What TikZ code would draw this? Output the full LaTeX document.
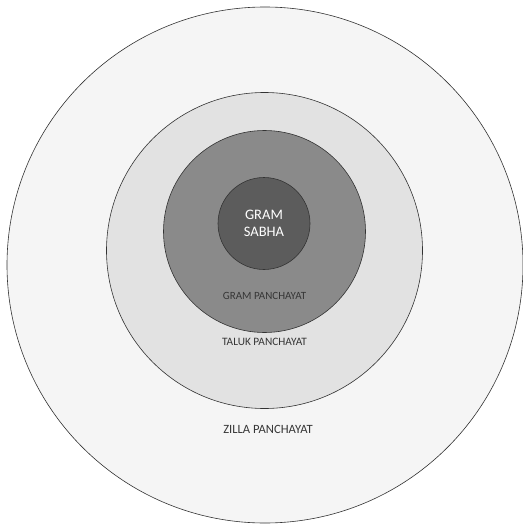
\documentclass[tikz,border=0pt]{standalone}
\usepackage{fontspec}
\setmainfont{Carlito}
\definecolor{zillafill}{HTML}{F5F5F5}
\definecolor{talukfill}{HTML}{E2E2E2}
\definecolor{gpfill}{HTML}{8A8A8A}
\definecolor{gsfill}{HTML}{5C5C5C}
\definecolor{labeltext}{HTML}{363636}
\tikzset{ring/.style={circle,draw=black!80,line width=0.6pt,inner sep=0pt}}
\begin{document}
\begin{tikzpicture}[x=1pt,y=-1pt]
        \useasboundingbox[fill=white](0,0)rectangle(522,524);
        \node[ring,fill=zillafill,minimum size=516pt](zilla)at(265,265){};
        \node[ring,fill=talukfill,minimum size=316pt](taluk)at(264.5,250.5){};
        \node[ring,fill=gpfill,minimum size=202pt](gp)at(264.5,231.5){};
        \node[ring,fill=gsfill,minimum size=92pt](gs)at(264,223.5){};

        \node[text=white,font=\fontsize{14.5}{17}\selectfont,align=center](gslabel)at(gs){GRAM\\SABHA};
        \node[text=labeltext,font=\fontsize{11}{12}\selectfont](gplabel)at(264.5,296){GRAM PANCHAYAT};
        \node[text=labeltext,font=\fontsize{11.3}{12}\selectfont](taluklabel)at(264.5,342){TALUK PANCHAYAT};
        \node[text=labeltext,font=\fontsize{12.6}{14}\selectfont](zillalabel)at(268,429){ZILLA PANCHAYAT};
    \end{tikzpicture}
\end{document}
